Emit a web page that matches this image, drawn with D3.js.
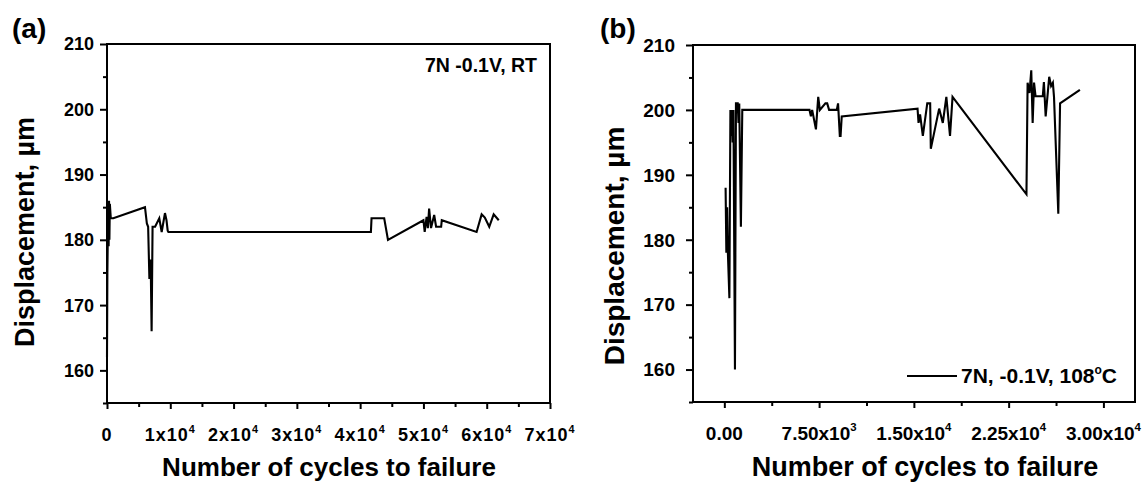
<!DOCTYPE html>
<html>
<head>
<meta charset="utf-8">
<script src="https://cdn.jsdelivr.net/npm/d3@7"></script>
<style>
  body{margin:0;background:#fff;}
  svg{display:block;font-family:"Liberation Sans",Arial,sans-serif;font-weight:bold;}
</style>
</head>
<body>
<svg id="chart" width="1146" height="483"></svg>
<script>
// panel (a): 7N -0.1V, room temperature
const aCycles=[0,60,120,200,260,320,380,450,600,1000,6000,6300,6500,6700,6900,7050,7200,7600,8260,8640,9160,9400,9590,9700,41700,41800,43800,44400,50000,50200,50500,50700,50900,51200,51700,52000,52800,52900,58400,59200,59700,60400,61100,61900];
const aDisp=[162,175,180,186,179,186,180,185.5,183.3,183.3,185,182.5,182,174,177,166,182,182,183.3,181.2,184.1,183,181.4,181.2,181.2,183.3,183.3,180,183,181.2,183.5,181.8,184.8,181.8,183.8,182,182,183,181.2,183.9,183.4,182,183.9,183];

// panel (b): 7N -0.1V, 108°C
const bCycles=[100,160,220,280,400,480,540,600,660,720,840,920,1060,1120,1180,1310,1420,6740,6850,6950,7250,7430,7560,8000,8140,8290,8900,9000,9140,9200,9290,15290,15370,15490,15710,16060,16290,16340,17000,17290,17570,17860,18060,23910,24000,24150,24290,24400,24510,24630,25200,25290,25430,25710,25860,26000,26090,26430,26570,28140];
const bDisp=[188,178,185,178,171,200,196,200,195,200,160,201,201,198,201,182,200,200,199,200,197,202,200,201,201,200,200,201,196,196,199,200.2,198,199.3,196,201,201,194,200.2,198,202,196,202,187,204.2,202.6,206.1,198,204.2,202.1,202.1,204.3,199,205.1,203.7,204.2,202,184,201,203.1];

const yMajor=[160,170,180,190,200,210];
const yMinor=[155,165,175,185,195,205];
const aXMajor=[0,10000,20000,30000,40000,50000,60000,70000];
const aXMinor=[5000,15000,25000,35000,45000,55000,65000];
const aXLabels=["0","1x10^4","2x10^4","3x10^4","4x10^4","5x10^4","6x10^4","7x10^4"];
const bXMajor=[0,7500,15000,22500,30000];
const bXMinor=[3750,11250,18750,26250];
const bXLabels=["0.00","7.50x10^3","1.50x10^4","2.25x10^4","3.00x10^4"];

const svg=d3.select("#chart");

function supText(sel,s,fs){
  const [m,e]=s.split("^");
  sel.append("tspan").text(m);
  if(e) sel.append("tspan").attr("dy",-fs*0.45).attr("font-size",fs*0.6).text(e);
}

function panel(c){
  const x=d3.scaleLinear().domain(c.xDomain).range([c.left,c.right]);
  const y=d3.scaleLinear().domain([155,210]).range([c.bottom,c.top]);
  const g=svg.append("g");

  // minor + major ticks, pointing outward
  const xAxisMinor=d3.axisBottom(x).tickValues(c.xMinor).tickSize(4).tickFormat("");
  const xAxisMajor=d3.axisBottom(x).tickValues(c.xMajor).tickSize(6).tickFormat("");
  const yAxisMinor=d3.axisLeft(y).tickValues(yMinor).tickSize(4).tickFormat("");
  const yAxisMajor=d3.axisLeft(y).tickValues(yMajor).tickSize(7).tickFormat("");
  [xAxisMinor,xAxisMajor].forEach(a=>g.append("g").attr("transform",`translate(0,${c.bottom})`).call(a));
  [yAxisMinor,yAxisMajor].forEach(a=>g.append("g").attr("transform",`translate(${c.left},0)`).call(a));
  g.selectAll(".domain").remove();
  g.selectAll(".tick line").attr("stroke","#000").attr("stroke-width",2);

  // frame
  g.append("rect")
    .attr("x",c.left).attr("y",c.top)
    .attr("width",c.right-c.left).attr("height",c.bottom-c.top)
    .attr("fill","none").attr("stroke","#000").attr("stroke-width",2);

  // tick labels
  g.selectAll(".ylab").data(yMajor).join("text")
    .attr("x",c.left-c.yLabGap).attr("y",d=>y(d)+c.tickFs*0.36)
    .attr("text-anchor","end").attr("font-size",c.tickFs)
    .text(d=>d);
  c.xMajor.forEach((v,i)=>{
    const t=g.append("text")
      .attr("x",x(v)).attr("y",c.bottom+38)
      .attr("text-anchor","middle").attr("font-size",c.tickFs)
      .attr("letter-spacing",c.spacing);
    supText(t,c.xLabels[i],c.tickFs);
  });

  // axis titles
  g.append("text")
    .attr("x",c.xTitleX).attr("y",476)
    .attr("text-anchor","middle").attr("font-size",c.titleFs)
    .text("Number of cycles to failure");
  g.append("text")
    .attr("transform",`translate(${c.yTitleX},${c.yTitleY}) rotate(-90)`)
    .attr("text-anchor","middle").attr("font-size",c.titleFs+1)
    .text("Displacement, \u00b5m");

  // panel letter
  g.append("text")
    .attr("x",c.letterX).attr("y",38)
    .attr("font-size",28)
    .text(c.letter);

  // data line
  const line=d3.line().x(d=>x(d[0])).y(d=>y(d[1]));
  g.append("path")
    .datum(d3.zip(c.cycles,c.disp))
    .attr("fill","none").attr("stroke","#000").attr("stroke-width",2.1)
    .attr("d",line);
  return {x,y,g};
}

const pa=panel({
  left:107,right:550,top:44,bottom:403,xDomain:[0,70000],
  xMajor:aXMajor,xMinor:aXMinor,xLabels:aXLabels,
  cycles:aCycles,disp:aDisp,tickFs:18,spacing:1,yLabGap:13,
  titleFs:26,xTitleX:329,yTitleX:34,yTitleY:232,letter:"(a)",letterX:12
});
pa.g.append("text")
  .attr("x",537).attr("y",72)
  .attr("text-anchor","end").attr("font-size",19.5)
  .text("7N -0.1V, RT");

const pb=panel({
  left:693,right:1135,top:45,bottom:402,xDomain:[-2480,32500],
  xMajor:bXMajor,xMinor:bXMinor,xLabels:bXLabels,
  cycles:bCycles,disp:bDisp,tickFs:19,spacing:0,yLabGap:18,
  titleFs:27,xTitleX:925,yTitleX:624,yTitleY:246,letter:"(b)",letterX:600
});
// legend
pb.g.append("line")
  .attr("x1",907).attr("x2",957).attr("y1",376).attr("y2",376)
  .attr("stroke","#000").attr("stroke-width",2.1);
const lt=pb.g.append("text").attr("x",961).attr("y",383).attr("font-size",21);
lt.append("tspan").text("7N, -0.1V, 108");
lt.append("tspan").attr("dy",-9).attr("font-size",12).text("o");
lt.append("tspan").attr("dy",9).text("C");
</script>
</body>
</html>
